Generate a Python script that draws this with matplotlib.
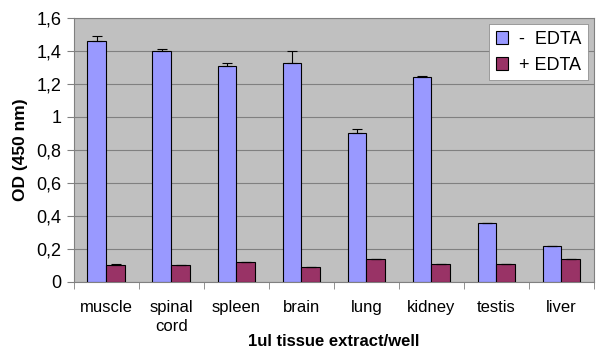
import matplotlib.pyplot as plt
import numpy as np

plt.rcParams['font.family'] = ['Liberation Sans', 'DejaVu Sans']

# data
tissues = ['muscle', 'spinal\ncord', 'spleen', 'brain', 'lung', 'kidney', 'testis', 'liver']
minus_edta = [1.46, 1.40, 1.31, 1.33, 0.90, 1.24, 0.36, 0.22]
minus_err = [0.03, 0.01, 0.02, 0.07, 0.03, 0.01, 0.0, 0.0]
plus_edta = [0.10, 0.10, 0.12, 0.09, 0.14, 0.11, 0.11, 0.14]
plus_err = [0.01, 0.0, 0.0, 0.0, 0.0, 0.0, 0.0, 0.0]

fig = plt.figure(figsize=(6, 3.52), dpi=100)
ax = fig.add_axes([0.123, 0.199, 0.867, 0.75])
ax.set_facecolor('#C0C0C0')

x = np.arange(len(tissues))
w = 0.29
ax.bar(x - w / 2, minus_edta, w, color='#9999FF', edgecolor='black', linewidth=0.8,
       label='-  EDTA', zorder=3)
ax.errorbar(x - w / 2, minus_edta, yerr=[np.zeros(len(x)), minus_err], fmt='none',
            ecolor='black', elinewidth=0.8, capsize=3.5, capthick=0.8, zorder=4)
ax.bar(x + w / 2, plus_edta, w, color='#993366', edgecolor='black', linewidth=0.8,
       label='+ EDTA', zorder=3)
ax.errorbar(x + w / 2, plus_edta, yerr=[np.zeros(len(x)), plus_err], fmt='none',
            ecolor='black', elinewidth=0.8, capsize=3.5, capthick=0.8, zorder=4)

ax.set_xlim(-0.5, len(tissues) - 0.5)
ax.set_ylim(0, 1.6)
yt = np.arange(0, 1.61, 0.2)
ax.set_yticks(yt)
ax.set_yticklabels(['0', '0,2', '0,4', '0,6', '0,8', '1', '1,2', '1,4', '1,6'], fontsize=13)
ax.yaxis.grid(True, color='#808080', linewidth=0.8, zorder=0)
ax.set_axisbelow(True)

ax.set_xticks(x)
ax.set_xticklabels(tissues, fontsize=12, va='top', linespacing=1.3)
ax.tick_params(axis='x', length=0, pad=13)
ax.set_xticks(np.arange(-0.5, len(tissues), 1), minor=True)
ax.tick_params(axis='x', which='minor', length=5, color='#808080')
ax.tick_params(axis='y', length=5, color='#808080', pad=4)

for s in ax.spines.values():
    s.set_color('#808080')
    s.set_linewidth(0.8)

ax.set_ylabel('OD (450 nm)', fontsize=12.5, fontweight='bold', labelpad=6)
ax.set_xlabel('1ul tissue extract/well', fontsize=12, fontweight='bold', labelpad=0)

leg = ax.legend(loc='upper right', fontsize=13, frameon=True, fancybox=False,
                framealpha=1, edgecolor='#808080', handlelength=0.7, handleheight=0.7,
                borderaxespad=0.35, labelspacing=0.5, handletextpad=0.6, borderpad=0.35)
leg.get_frame().set_linewidth(0.5)

fig.savefig('out.png', dpi=100)
